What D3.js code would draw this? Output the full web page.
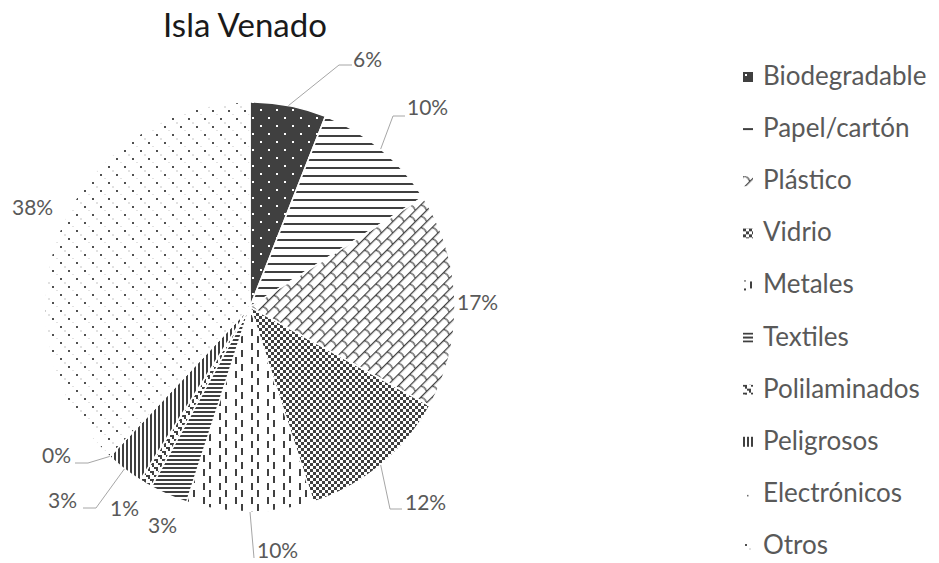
<!DOCTYPE html>
<html>
<head>
<meta charset="utf-8">
<script src="https://cdn.jsdelivr.net/npm/d3@7"></script>
<style>
  html, body { margin: 0; padding: 0; background: #fff; }
  svg { display: block; font-family: Lato, "Open Sans", sans-serif; }
</style>
</head>
<body>
<svg id="chart" width="939" height="563"></svg>
<script>
// Waste composition, Isla Venado (percent of total)
const title = "Isla Venado";
const categories = ["Biodegradable", "Papel/cartón", "Plástico", "Vidrio", "Metales",
  "Textiles", "Polilaminados", "Peligrosos", "Electrónicos", "Otros"];
const values = [6, 10, 17, 12, 10, 3, 1, 3, 0, 38];

// Fill pattern for each category, in category order
const patternKeys = ["bio", "papel", "plastico", "vidrio", "metales",
  "textiles", "poli", "peligrosos", "electronicos", "otros"];

const svg = d3.select("#chart");
const W = 939, H = 563;
const cx = 250, cy = 307, R = 205;
const ink = "#404040";

// ---- hatch patterns ----
const defs = svg.append("defs");
function pat(id, w, h) {
  return defs.append("pattern").attr("id", id)
    .attr("patternUnits", "userSpaceOnUse").attr("width", w).attr("height", h);
}
function dot(p, x, y, s, c) {
  p.append("rect").attr("x", x).attr("y", y).attr("width", s).attr("height", s).attr("fill", c);
}
// dark with white dots
{
  const p = pat("bio", 16, 16);
  p.append("rect").attr("width", 16).attr("height", 16).attr("fill", ink);
  dot(p, 2, 2, 2, "#fff");
  dot(p, 10, 10, 2, "#fff");
}
// horizontal lines
{
  const p = pat("papel", 16, 8);
  p.append("rect").attr("width", 16).attr("height", 8).attr("fill", "#fff");
  p.append("rect").attr("y", 4).attr("width", 16).attr("height", 2).attr("fill", ink);
}
// shingle
{
  const p = pat("plastico", 16, 16).attr("patternTransform", "rotate(-45)");
  p.append("rect").attr("width", 16).attr("height", 16).attr("fill", "#fff");
  const g = p.append("g").attr("stroke", ink).attr("stroke-width", 1.2).attr("fill", "none");
  g.append("path").attr("d", "M0,0.6H16M0,8.6H16");
  g.append("path").attr("d", "M1,0.6 Q3.5,4.6 1,8.6 M9,8.6 Q11.5,12.6 9,16.6");
}
// small checkerboard
{
  const p = pat("vidrio", 6, 6);
  p.append("rect").attr("width", 6).attr("height", 6).attr("fill", "#fff");
  p.append("rect").attr("width", 3).attr("height", 3).attr("fill", ink);
  p.append("rect").attr("x", 3).attr("y", 3).attr("width", 3).attr("height", 3).attr("fill", ink);
}
// dashed vertical
{
  const p = pat("metales", 16, 14);
  p.append("rect").attr("width", 16).attr("height", 14).attr("fill", "#fff");
  p.append("rect").attr("x", 7).attr("y", 1).attr("width", 2).attr("height", 7).attr("fill", ink);
  p.append("rect").attr("x", 1).attr("y", 8).attr("width", 2).attr("height", 7).attr("fill", ink);
  p.append("rect").attr("x", 1).attr("y", -6).attr("width", 2).attr("height", 7).attr("fill", ink);
}
// narrow horizontal
{
  const p = pat("textiles", 4, 4);
  p.append("rect").attr("width", 4).attr("height", 4).attr("fill", "#fff");
  p.append("rect").attr("width", 4).attr("height", 2).attr("fill", ink);
}
// weave
{
  const p = pat("poli", 8, 8);
  p.append("rect").attr("width", 8).attr("height", 8).attr("fill", "#fff");
  p.append("path").attr("d", "M0,0h4v2h-4zM4,4h4v2h-4zM2,2h2v2h-2zM6,6h2v2h-2z").attr("fill", ink);
}
// narrow vertical
{
  const p = pat("peligrosos", 4, 4);
  p.append("rect").attr("width", 4).attr("height", 4).attr("fill", "#fff");
  p.append("rect").attr("width", 2).attr("height", 4).attr("fill", ink);
}
// sparse single dots
{
  const p = pat("electronicos", 16, 16);
  p.append("rect").attr("width", 16).attr("height", 16).attr("fill", "#fff");
  dot(p, 4, 6, 1.5, "#666");
}
// dotted grid, alternating strong and faint dots
{
  const p = pat("otros", 16, 16);
  p.append("rect").attr("width", 16).attr("height", 16).attr("fill", "#fff");
  dot(p, 2, 3, 2, "#505050");
  dot(p, 6.5, 7.5, 1, "#8a8a8a");
  dot(p, 10, 11, 2, "#505050");
  dot(p, 14.5, 15.5, 1, "#8a8a8a");
}

svg.append("rect").attr("width", W).attr("height", H).attr("fill", "#fff");

// ---- title ----
svg.append("text")
  .attr("x", 245).attr("y", 37)
  .attr("text-anchor", "middle")
  .attr("font-size", 33)
  .attr("fill", "#1a1a1a")
  .text(title);

// ---- pie ----
const pie = d3.pie().sort(null).value(d => d)(values);
const arc = d3.arc().innerRadius(0).outerRadius(R);
const g = svg.append("g").attr("transform", `translate(${cx},${cy})`);

g.selectAll("path.slice")
  .data(pie)
  .join("path")
  .attr("class", "slice")
  .attr("d", arc)
  .attr("fill", (d, i) => `url(#${patternKeys[i]})`)
  .attr("stroke", "#fff")
  .attr("stroke-width", 1.5)
  .attr("stroke-linejoin", "round");

// ---- data labels ----
// placement of each label relative to the pie centre: text baseline point,
// anchor, and optional leader line elbow (knee) and end point
const labelPlacement = [
  { x: 103, y: -240, a: "start", knee: [89, -242], end: [102, -242] },
  { x: 157, y: -192, a: "start", knee: [143, -191], end: [155, -191] },
  { x: 207, y: 3, a: "start" },
  { x: 155, y: 203, a: "start", knee: [140, 202], end: [152, 202] },
  { x: 7, y: 251, a: "start", knee: null, end: [4, 251] },
  { x: -102, y: 226, a: "start" },
  { x: -140, y: 209, a: "start" },
  { x: -173, y: 201, a: "end", knee: [-154, 201], end: [-167, 201] },
  { x: -179, y: 156, a: "end", knee: [-162, 156], end: [-175, 156] },
  { x: -238, y: -92, a: "start" }
];

const fmt = v => `${Math.round(v)}%`;
const labels = g.append("g");
pie.forEach((d, i) => {
  const lp = labelPlacement[i];
  const mid = (d.startAngle + d.endAngle) / 2;
  if (lp.end) {
    const p0 = [Math.sin(mid) * R, -Math.cos(mid) * R];
    const pts = [p0];
    if (lp.knee) pts.push(lp.knee);
    pts.push(lp.end);
    labels.append("path")
      .attr("d", d3.line()(pts))
      .attr("fill", "none")
      .attr("stroke", "#a6a6a6")
      .attr("stroke-width", 1);
  }
  labels.append("text")
    .attr("x", lp.x).attr("y", lp.y)
    .attr("text-anchor", lp.a)
    .attr("font-size", 21)
    .attr("fill", "#595959")
    .text(fmt(d.data));
});

// ---- legend ----
// each key swatch sits in its own translated group so the pattern tile
// starts at the swatch corner
const legendY = d3.scalePoint().domain(categories).range([77, 546]);
const legend = svg.append("g");
categories.forEach((c, i) => {
  const y = legendY(c);
  legend.append("g")
    .attr("transform", `translate(743,${y - 5})`)
    .append("rect")
    .attr("width", 10).attr("height", 10)
    .attr("fill", `url(#${patternKeys[i]})`);
  legend.append("text")
    .attr("x", 763).attr("y", y + 8)
    .attr("font-size", 26)
    .attr("fill", "#595959")
    .text(c);
});
</script>
</body>
</html>
